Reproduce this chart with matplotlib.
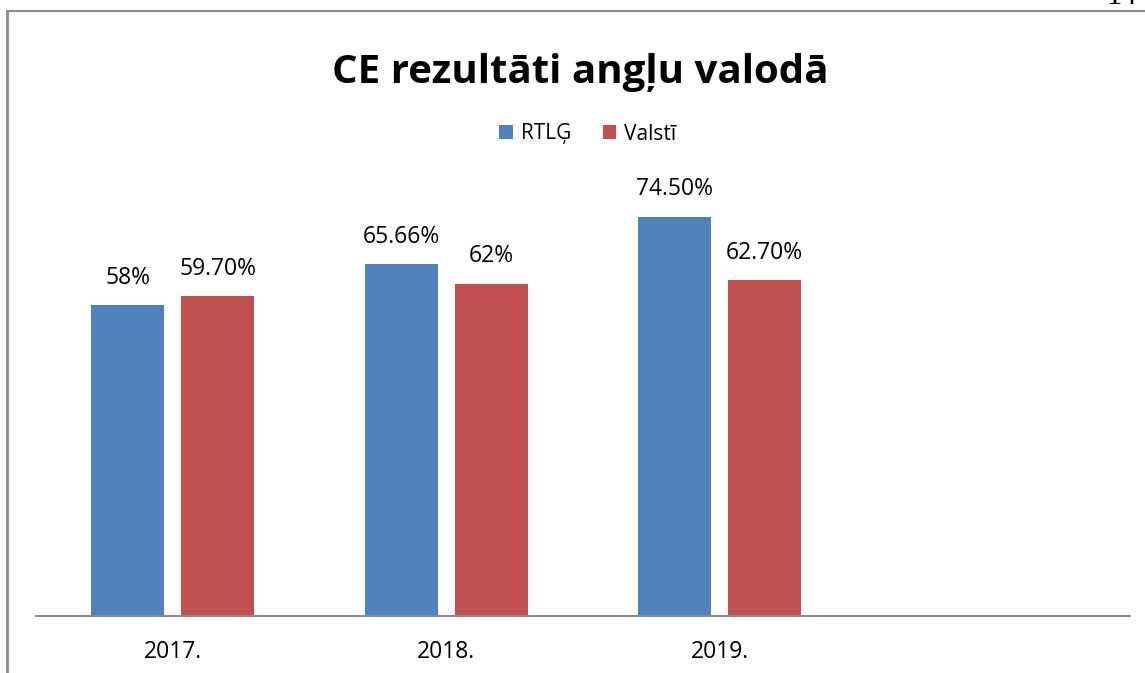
import matplotlib
matplotlib.use("Agg")
import matplotlib.pyplot as plt
from matplotlib.lines import Line2D
from matplotlib.patches import Patch

plt.rcParams['font.family'] = ['Open Sans', 'DejaVu Sans']

categories = ["2017.", "2018.", "2019.", ""]
rtlg = [58.0, 65.66, 74.5, None]
valsti = [59.7, 62.0, 62.7, None]
rtlg_labels = ["58%", "65.66%", "74.50%"]
valsti_labels = ["59.70%", "62%", "62.70%"]
series_names = ["RTLĢ", "Valstī"]
title = "CE rezultāti angļu valodā"

blue = "#4F81BD"
red = "#C0504D"

fig = plt.figure(figsize=(11.45, 6.73), dpi=100)
ax = fig.add_axes([36/1145, 57/673, 1094/1145, (616-80)/673])

n = len(categories)
xs = list(range(n))
w = 0.267
gap = 0.062
off = (w + gap) / 2
for i in range(3):
    ax.bar(xs[i] - off, rtlg[i], w, color=blue, zorder=2)
    ax.bar(xs[i] + off, valsti[i], w, color=red, zorder=2)
    ax.annotate(rtlg_labels[i], (xs[i] - off, rtlg[i]), xytext=(0, 11),
                textcoords="offset points", ha="center", va="bottom", fontsize=16.5)
    ax.annotate(valsti_labels[i], (xs[i] + off, valsti[i]), xytext=(0, 11),
                textcoords="offset points", ha="center", va="bottom", fontsize=16.5)

ax.set_xlim(-0.5, n - 0.5)
ax.set_ylim(0, 100)
ax.set_xticks(xs)
ax.set_xticklabels(categories, fontsize=16.5)
ax.tick_params(axis="x", length=0, pad=17)
ax.set_yticks([])
for s in ["top", "right", "left"]:
    ax.spines[s].set_visible(False)
ax.spines["bottom"].set_color("#8c8c8c")
ax.spines["bottom"].set_linewidth(1.5)
ax.patch.set_alpha(0)

fig.text(580/1145, 1 - 73/673, title, ha="center", va="center",
         fontsize=29, fontweight="bold")

handles = [Patch(facecolor=blue), Patch(facecolor=red)]
fig.legend(handles, series_names, loc="center", bbox_to_anchor=(588/1145, 1 - 134/673),
           ncol=2, frameon=False, fontsize=15, handlelength=0.65, handleheight=0.65,
           handletextpad=0.4, columnspacing=1.5)

# page border lines
fig.add_artist(Line2D([7/1145, 7/1145], [0, 1 - 11/673], transform=fig.transFigure,
                      color="#8c8c8c", lw=2))
fig.add_artist(Line2D([7/1145, 1], [1 - 11/673, 1 - 11/673], transform=fig.transFigure,
                      color="#8c8c8c", lw=1.5))
fig.text(1122/1145, 1 + 4/673, "14", ha="center", va="center", fontsize=22,
         family=["Liberation Serif", "DejaVu Serif"])

fig.savefig("out.png", dpi=100)
